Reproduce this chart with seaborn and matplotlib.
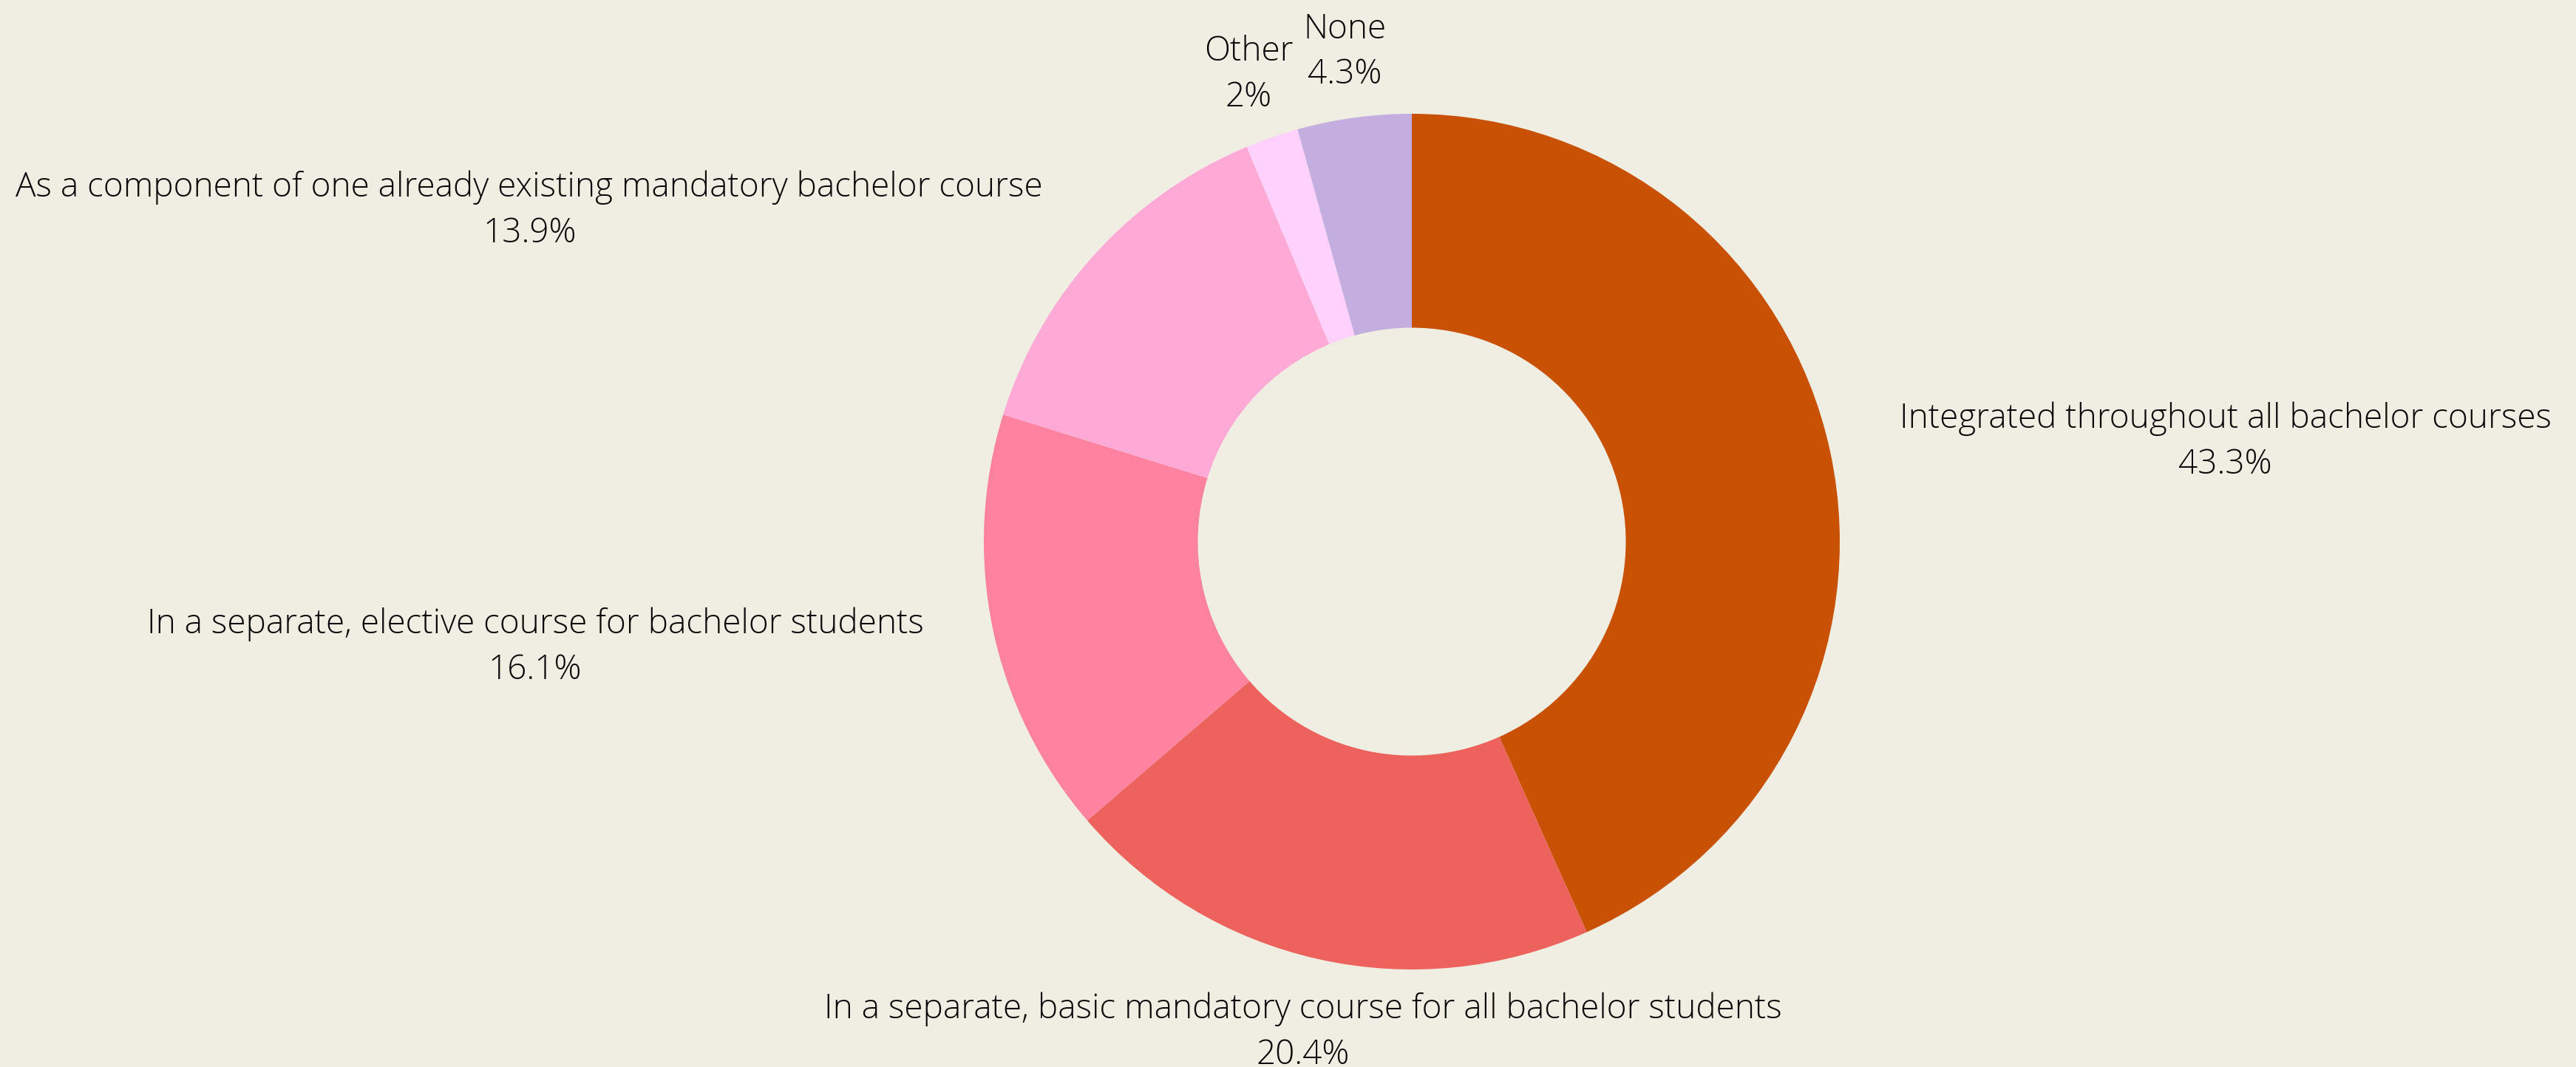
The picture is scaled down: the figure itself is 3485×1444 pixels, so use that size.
import numpy as np
import seaborn as sns
import matplotlib
import matplotlib.pyplot as plt

matplotlib.use('Agg')

# =================================== DATA ===================================

categories = [
    'Integrated throughout all bachelor courses',
    'In a separate, basic mandatory course for all bachelor students',
    'In a separate, elective course for bachelor students',
    'As a component of one already existing mandatory bachelor course',
    'Other',
    'None',
]
shares = [43.3, 20.4, 16.1, 13.9, 2.0, 4.3]
share_labels = ['43.3%', '20.4%', '16.1%', '13.9%', '2%', '4.3%']
colors = ['#C85103', '#EE625E', '#FF82A0', '#FFA9D7', '#FFD1FC', '#C3AEDF']

BACKGROUND = '#F0EEE2'

# =================================== PLOT ===================================

sns.set_theme(style='white', rc={'figure.facecolor': BACKGROUND, 'axes.facecolor': BACKGROUND})
plt.rcParams['font.family'] = ['Open Sans', 'DejaVu Sans']

W, H, DPI = 3485, 1444, 100
fig = plt.figure(figsize=(W / DPI, H / DPI), dpi=DPI)

# pie center and radius in pixels, axes in units of radius
cx, cy, R = 1910, 733, 579
ax = fig.add_axes([0, 0, 1, 1])

wedges, _ = ax.pie(shares, colors=colors, startangle=90, counterclock=False,
                   radius=1, wedgeprops={'width': 0.5, 'linewidth': 0})

# pie() resets the limits, so set them afterwards
ax.set_xlim(-cx / R, (W - cx) / R)
ax.set_ylim(-(H - cy) / R, cy / R)
ax.set_aspect('equal')
ax.axis('off')

label_r = 1.165
for wedge, cat, lab in zip(wedges, categories, share_labels):
    ang = np.deg2rad((wedge.theta1 + wedge.theta2) / 2)
    x, y = np.cos(ang) * label_r, np.sin(ang) * label_r - 0.01
    if abs(np.cos(ang)) < 0.4:
        ha = 'center'
    elif x > 0:
        ha = 'left'
    else:
        ha = 'right'
    ax.text(x, y, cat + '\n' + lab, ha=ha, va='center', multialignment='center',
            fontsize=33, fontweight='light', color='#0A0A0A', linespacing=1.45)

fig.savefig('out.png', dpi=DPI, facecolor=BACKGROUND)
plt.close('all')
